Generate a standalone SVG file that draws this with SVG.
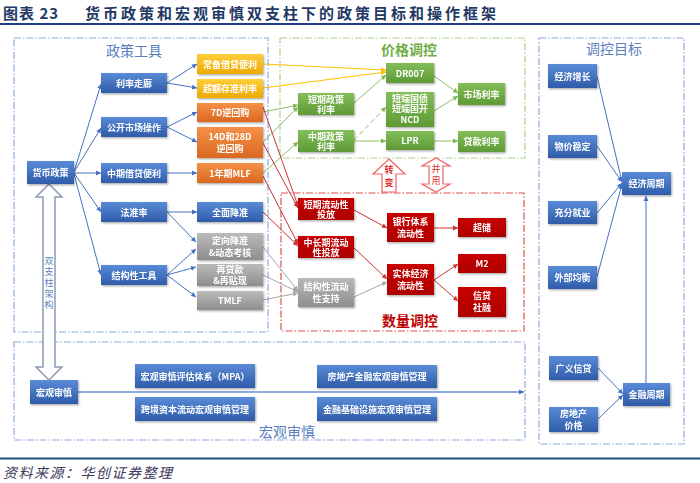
<svg xmlns="http://www.w3.org/2000/svg" width="700" height="483" viewBox="0 0 700 483">
<style>
text{font-family:"Noto Sans CJK SC","Noto Sans",sans-serif}
.t{font-size:9px;fill:#fff;font-weight:bold;text-anchor:middle}
.ttl{font-size:14px;text-anchor:middle}
.box{fill:none;stroke-width:1.2;stroke-dasharray:7 2 1.5 2}
.bb{stroke:#8FAADC}.gb{stroke:#A9D18E}.rb{stroke:#E05050}
.n{filter:url(#sh)}
.blue{fill:url(#gB)}.yel{fill:url(#gY)}.org{fill:url(#gO)}.gry{fill:url(#gG)}.grn{fill:url(#gN)}.red{fill:url(#gR)}
.lb{stroke:#4472C4;stroke-width:1;fill:none;marker-end:url(#aB)}
.ly{stroke:#FFC000;stroke-width:1.2;fill:none;marker-end:url(#aY)}
.lg{stroke:#8CC063;stroke-width:1;fill:none;marker-end:url(#aN)}
.lr{stroke:#CC3333;stroke-width:1;fill:none;marker-end:url(#aR)}
.lgy{stroke:#A6A6A6;stroke-width:1;fill:none;marker-end:url(#aG)}
.vt{font-size:9px;fill:#5A7EC0;text-anchor:middle}
.rt{font-size:9px;fill:#E03030;text-anchor:middle;font-weight:bold}
</style>
<defs>
<linearGradient id="gB" x1="0" y1="0" x2="0" y2="1"><stop offset="0" stop-color="#5A8BD8"/><stop offset="1" stop-color="#2F5CA8"/></linearGradient>
<linearGradient id="gY" x1="0" y1="0" x2="0" y2="1"><stop offset="0" stop-color="#FFCE3A"/><stop offset="1" stop-color="#EDA900"/></linearGradient>
<linearGradient id="gO" x1="0" y1="0" x2="0" y2="1"><stop offset="0" stop-color="#F59048"/><stop offset="1" stop-color="#DA6820"/></linearGradient>
<linearGradient id="gG" x1="0" y1="0" x2="0" y2="1"><stop offset="0" stop-color="#BABABA"/><stop offset="1" stop-color="#8E8E8E"/></linearGradient>
<linearGradient id="gN" x1="0" y1="0" x2="0" y2="1"><stop offset="0" stop-color="#82BE58"/><stop offset="1" stop-color="#5E9A36"/></linearGradient>
<linearGradient id="gR" x1="0" y1="0" x2="0" y2="1"><stop offset="0" stop-color="#C80404"/><stop offset="1" stop-color="#AE0000"/></linearGradient>
<filter id="sh" x="-20%" y="-20%" width="140%" height="160%"><feDropShadow dx="1" dy="1.2" stdDeviation="0.8" flood-color="#000" flood-opacity="0.35"/></filter>
<marker id="aB" markerWidth="6" markerHeight="6" refX="5" refY="3" orient="auto" markerUnits="userSpaceOnUse"><path d="M0,0.5 L5,3 L0,5.5z" fill="#4472C4"/></marker>
<marker id="aY" markerWidth="6" markerHeight="6" refX="5" refY="3" orient="auto" markerUnits="userSpaceOnUse"><path d="M0,0.5 L5,3 L0,5.5z" fill="#FFC000"/></marker>
<marker id="aN" markerWidth="6" markerHeight="6" refX="5" refY="3" orient="auto" markerUnits="userSpaceOnUse"><path d="M0,0.5 L5,3 L0,5.5z" fill="#7DB653"/></marker>
<marker id="aR" markerWidth="6" markerHeight="6" refX="5" refY="3" orient="auto" markerUnits="userSpaceOnUse"><path d="M0,0.5 L5,3 L0,5.5z" fill="#CC3333"/></marker>
<marker id="aG" markerWidth="6" markerHeight="6" refX="5" refY="3" orient="auto" markerUnits="userSpaceOnUse"><path d="M0,0.5 L5,3 L0,5.5z" fill="#A6A6A6"/></marker>
</defs>
<rect width="700" height="483" fill="#fff"/>

<!-- header / footer -->
<text x="3" y="18.5" style="font-size:15px;font-weight:bold;fill:#1F3864;letter-spacing:1px">图表 23</text>
<text x="85" y="18.5" style="font-size:15px;font-weight:bold;fill:#1F3864;letter-spacing:3px">货币政策和宏观审慎双支柱下的政策目标和操作框架</text>
<line x1="0" y1="24" x2="700" y2="24" stroke="#1F3C88" stroke-width="2"/>
<line x1="0" y1="458.5" x2="700" y2="458.5" stroke="#1F4E79" stroke-width="2"/>
<text x="3" y="478" style="font-size:14px;font-style:italic;fill:#3A3A5A;letter-spacing:1.5px">资料来源：华创证券整理</text>

<!-- region boxes -->
<g id="region-tools"><rect class="box bb" x="14" y="38" width="254" height="294"/><text class="ttl" x="134" y="56" fill="#5A7EC0">政策工具</text></g>
<g id="region-price"><rect class="box gb" x="280" y="38" width="245" height="120"/><text class="ttl" x="409" y="55" fill="#70AD47" font-weight="bold">价格调控</text></g>
<g id="region-quantity"><rect class="box rb" x="281" y="193" width="243" height="138"/><text class="ttl" x="410" y="326" fill="#C00000" font-weight="bold">数量调控</text></g>
<g id="region-target"><rect class="box bb" x="539" y="38" width="145" height="406"/><text class="ttl" x="614" y="54" fill="#5A7EC0">调控目标</text></g>
<g id="region-macro"><rect class="box bb" x="14" y="342" width="511" height="98"/><text class="ttl" x="287" y="437" fill="#5A7EC0">宏观审慎</text></g>

<!-- connectors -->
<g id="connectors">
<line class="lb" x1="74" y1="172" x2="101" y2="84"/>
<line class="lb" x1="74" y1="172" x2="101" y2="128"/>
<line class="lb" x1="74" y1="173" x2="101" y2="173"/>
<line class="lb" x1="74" y1="173" x2="101" y2="212"/>
<line class="lb" x1="74" y1="174" x2="101" y2="275"/>
<line class="lb" x1="167" y1="83" x2="197" y2="64"/>
<line class="lb" x1="167" y1="83" x2="197" y2="88"/>
<line class="lb" x1="167" y1="127" x2="197" y2="112"/>
<line class="lb" x1="167" y1="127" x2="197" y2="142"/>
<line class="lb" x1="167" y1="173" x2="197" y2="173"/>
<line class="lb" x1="167" y1="212" x2="197" y2="212"/>
<line class="lb" x1="167" y1="212" x2="196" y2="242"/>
<line class="lb" x1="167" y1="275" x2="196" y2="249"/>
<line class="lb" x1="167" y1="275" x2="196" y2="267"/>
<line class="lb" x1="167" y1="275" x2="196" y2="297"/>

<line class="ly" x1="263" y1="64" x2="386" y2="70"/>
<line class="ly" x1="263" y1="88" x2="386" y2="72"/>

<line class="lg" x1="263" y1="112" x2="298" y2="105"/>
<line class="lg" x1="263" y1="142" x2="298" y2="107"/>
<line class="lg" x1="263" y1="173" x2="298" y2="142"/>
<line class="lg" x1="354" y1="103" x2="386" y2="75"/>
<line class="lg" x1="354" y1="140" x2="386" y2="107" stroke-width="1.6" stroke-dasharray="5 3"/>
<line class="lg" x1="354" y1="141" x2="386" y2="141"/>
<line class="lg" x1="434" y1="76" x2="458" y2="93"/>
<line class="lg" x1="434" y1="111" x2="458" y2="96"/>
<line class="lg" x1="434" y1="141" x2="458" y2="141"/>

<line class="lr" x1="263" y1="107" x2="298" y2="206"/>
<line class="lr" x1="263" y1="143" x2="298" y2="208"/>
<line class="lr" x1="263" y1="176" x2="298" y2="244"/>
<line class="lr" x1="263" y1="212" x2="298" y2="246"/>
<line class="lr" x1="354" y1="210" x2="387" y2="228"/>
<line class="lr" x1="354" y1="248" x2="387" y2="279"/>
<line class="lr" x1="434" y1="228" x2="458" y2="228"/>
<line class="lr" x1="434" y1="280" x2="458" y2="264"/>
<line class="lr" x1="434" y1="280" x2="458" y2="301"/>

<line class="lgy" x1="263" y1="247" x2="298" y2="291"/>
<line class="lgy" x1="263" y1="275" x2="298" y2="292"/>
<line class="lgy" x1="263" y1="300" x2="298" y2="293"/>
<line class="lgy" x1="354" y1="297" x2="387" y2="282"/>

<line class="lb" x1="597" y1="76" x2="622" y2="182"/>
<line class="lb" x1="597" y1="146" x2="622" y2="182"/>
<line class="lb" x1="597" y1="213" x2="622" y2="183"/>
<line class="lb" x1="597" y1="277" x2="622" y2="184"/>
<line class="lb" x1="646" y1="383" x2="646" y2="196"/>
<line class="lb" x1="598" y1="368" x2="623" y2="394"/>
<line class="lb" x1="598" y1="419" x2="623" y2="395"/>
<line x1="78" y1="392" x2="524" y2="392" stroke="#8FAADC" stroke-width="2" marker-end="url(#aB)"/>
</g>

<!-- block arrows -->
<g id="arrow-pillar">
<path d="M49,184 L62,197 L55,197 L55,367 L62,367 L49,380 L36,367 L43,367 L43,197 L36,197 Z" fill="#fff" stroke="#8C9BB5" stroke-width="1.5"/>
<text class="vt" x="49" y="264"><tspan x="49">双</tspan><tspan x="49" dy="11">支</tspan><tspan x="49" dy="11">柱</tspan><tspan x="49" dy="11">架</tspan><tspan x="49" dy="11">构</tspan></text>
</g>
<g id="arrow-change">
<path d="M389,159 L405,174 L396,174 L396,192 L382,192 L382,174 L373,174 Z" fill="#fff" stroke="#F06060" stroke-width="1.2"/>
<text class="rt" x="389" y="173"><tspan x="389">转</tspan><tspan x="389" dy="13">变</tspan></text>
</g>
<g id="arrow-combine">
<path d="M436,158 L450,166 L443,166 L443,184 L450,184 L436,192 L422,184 L429,184 L429,166 L422,166 Z" fill="#fff" stroke="#F06060" stroke-width="1.2"/>
<text class="rt" x="436" y="172" font-weight="normal" style="font-weight:normal"><tspan x="436">并</tspan><tspan x="436" dy="12">用</tspan></text>
</g>

<!-- nodes: policy tools -->
<g id="n-hbzc" class="n"><rect class="blue" x="27" y="161" width="47" height="23"/><text class="t" x="50.5" y="176">货币政策</text></g>
<g id="n-llzl" class="n"><rect class="blue" x="101" y="73" width="66" height="20"/><text class="t" x="134" y="86.5">利率走廊</text></g>
<g id="n-gksc" class="n"><rect class="blue" x="101" y="117" width="66" height="20"/><text class="t" x="134" y="130.5">公开市场操作</text></g>
<g id="n-zqjd" class="n"><rect class="blue" x="101" y="163" width="66" height="20"/><text class="t" x="134" y="176.5">中期借贷便利</text></g>
<g id="n-fzl" class="n"><rect class="blue" x="101" y="202" width="66" height="20"/><text class="t" x="134" y="215.5">法准率</text></g>
<g id="n-jgx" class="n"><rect class="blue" x="101" y="265" width="66" height="20"/><text class="t" x="134" y="278.5">结构性工具</text></g>

<g id="n-cbjd" class="n"><rect class="yel" x="197" y="54" width="66" height="20"/><text class="t" x="230" y="67.5">常备借贷便利</text></g>
<g id="n-cezc" class="n"><rect class="yel" x="197" y="79" width="66" height="19"/><text class="t" x="230" y="92">超额存准利率</text></g>
<g id="n-7d" class="n"><rect class="org" x="197" y="103" width="66" height="19"/><text class="t" x="230" y="116">7D逆回购</text></g>
<g id="n-14d" class="n"><rect class="org" x="197" y="127" width="66" height="31"/><text class="t" x="230" y="140"><tspan x="230">14D和28D</tspan><tspan x="230" dy="12">逆回购</tspan></text></g>
<g id="n-mlf" class="n"><rect class="org" x="197" y="163" width="66" height="20"/><text class="t" x="230" y="176.5">1年期MLF</text></g>
<g id="n-qmjz" class="n"><rect class="blue" x="197" y="202" width="66" height="20"/><text class="t" x="230" y="215.5">全面降准</text></g>
<g id="n-dxjz" class="n"><rect class="gry" x="197" y="233" width="66" height="27"/><text class="t" x="230" y="244"><tspan x="230">定向降准</tspan><tspan x="230" dy="11.5">&amp;动态考核</tspan></text></g>
<g id="n-zdk" class="n"><rect class="gry" x="197" y="264" width="66" height="22"/><text class="t" x="230" y="273"><tspan x="230">再贷款</tspan><tspan x="230" dy="11">&amp;再贴现</tspan></text></g>
<g id="n-tmlf" class="n"><rect class="gry" x="197" y="291" width="66" height="19"/><text class="t" x="230" y="304">TMLF</text></g>

<!-- price control -->
<g id="n-dqzc" class="n"><rect class="grn" x="298" y="93" width="56" height="22"/><text class="t" x="326" y="102.5"><tspan x="326">短期政策</tspan><tspan x="326" dy="10.5">利率</tspan></text></g>
<g id="n-zqzc" class="n"><rect class="grn" x="298" y="130" width="56" height="22"/><text class="t" x="326" y="139.5"><tspan x="326">中期政策</tspan><tspan x="326" dy="10.5">利率</tspan></text></g>
<g id="n-dr007" class="n"><rect class="grn" x="386" y="63" width="48" height="20"/><text class="t" x="410" y="76.5">DR007</text></g>
<g id="n-ddgz" class="n"><rect class="grn" x="386" y="92" width="48" height="35"/><text class="t" x="410" y="101.5"><tspan x="410">短端国债</tspan><tspan x="410" dy="10.5">短端国开</tspan><tspan x="410" dy="11">NCD</tspan></text></g>
<g id="n-lpr" class="n"><rect class="grn" x="386" y="131" width="48" height="19"/><text class="t" x="410" y="144">LPR</text></g>
<g id="n-scll" class="n"><rect class="grn" x="458" y="83" width="47" height="22"/><text class="t" x="481.5" y="97.5">市场利率</text></g>
<g id="n-dkll" class="n"><rect class="grn" x="458" y="131" width="47" height="21"/><text class="t" x="481.5" y="145">贷款利率</text></g>

<!-- quantity control -->
<g id="n-dqld" class="n"><rect class="red" x="298" y="198" width="56" height="22"/><text class="t" x="326" y="207.5"><tspan x="326">短期流动性</tspan><tspan x="326" dy="10.5">投放</tspan></text></g>
<g id="n-zcqld" class="n"><rect class="red" x="298" y="236" width="56" height="22"/><text class="t" x="326" y="245.5"><tspan x="326">中长期流动</tspan><tspan x="326" dy="10.5">性投放</tspan></text></g>
<g id="n-jgxld" class="n"><rect class="gry" x="298" y="278" width="56" height="29"/><text class="t" x="326" y="290"><tspan x="326">结构性流动</tspan><tspan x="326" dy="11.5">性支持</tspan></text></g>
<g id="n-yhtx" class="n"><rect class="red" x="387" y="213" width="47" height="29"/><text class="t" x="410.5" y="225"><tspan x="410.5">银行体系</tspan><tspan x="410.5" dy="11.5">流动性</tspan></text></g>
<g id="n-stjj" class="n"><rect class="red" x="387" y="264" width="47" height="31"/><text class="t" x="410.5" y="277"><tspan x="410.5">实体经济</tspan><tspan x="410.5" dy="12">流动性</tspan></text></g>
<g id="n-cc" class="n"><rect class="red" x="458" y="218" width="48" height="19"/><text class="t" x="482" y="231">超储</text></g>
<g id="n-m2" class="n"><rect class="red" x="458" y="254" width="48" height="19"/><text class="t" x="482" y="267">M2</text></g>
<g id="n-xdsr" class="n"><rect class="red" x="458" y="287" width="48" height="30"/><text class="t" x="482" y="299"><tspan x="482">信贷</tspan><tspan x="482" dy="12">社融</tspan></text></g>

<!-- targets -->
<g id="n-jjzz" class="n"><rect class="blue" x="548" y="64" width="49" height="24"/><text class="t" x="572.5" y="79.5">经济增长</text></g>
<g id="n-wjwd" class="n"><rect class="blue" x="548" y="135" width="49" height="23"/><text class="t" x="572.5" y="150">物价稳定</text></g>
<g id="n-cfjy" class="n"><rect class="blue" x="548" y="201" width="49" height="23"/><text class="t" x="572.5" y="216">充分就业</text></g>
<g id="n-wbjh" class="n"><rect class="blue" x="548" y="266" width="49" height="23"/><text class="t" x="572.5" y="281">外部均衡</text></g>
<g id="n-jjzq" class="n"><rect class="blue" x="622" y="172" width="49" height="23"/><text class="t" x="646.5" y="187">经济周期</text></g>
<g id="n-gyxd" class="n"><rect class="blue" x="549" y="356" width="49" height="24"/><text class="t" x="573.5" y="371.5">广义信贷</text></g>
<g id="n-fdcjg" class="n"><rect class="blue" x="549" y="407" width="49" height="25"/><text class="t" x="573.5" y="417"><tspan x="573.5">房地产</tspan><tspan x="573.5" dy="11.5">价格</tspan></text></g>
<g id="n-jrzq" class="n"><rect class="blue" x="623" y="383" width="47" height="23"/><text class="t" x="646.5" y="398">金融周期</text></g>

<!-- macroprudential -->
<g id="n-hgsj" class="n"><rect class="blue" x="30" y="380" width="48" height="24"/><text class="t" x="54" y="395.5">宏观审慎</text></g>
<g id="n-mpa" class="n"><rect class="blue" x="135" y="364" width="120" height="24"/><text class="t" x="195" y="379.5">宏观审慎评估体系（MPA）</text></g>
<g id="n-kjzb" class="n"><rect class="blue" x="135" y="397" width="120" height="24"/><text class="t" x="195" y="412.5">跨境资本流动宏观审慎管理</text></g>
<g id="n-fdcjr" class="n"><rect class="blue" x="317" y="365" width="120" height="23"/><text class="t" x="377" y="380">房地产金融宏观审慎管理</text></g>
<g id="n-jrjc" class="n"><rect class="blue" x="317" y="397" width="120" height="24"/><text class="t" x="377" y="412.5">金融基础设施宏观审慎管理</text></g>
</svg>
